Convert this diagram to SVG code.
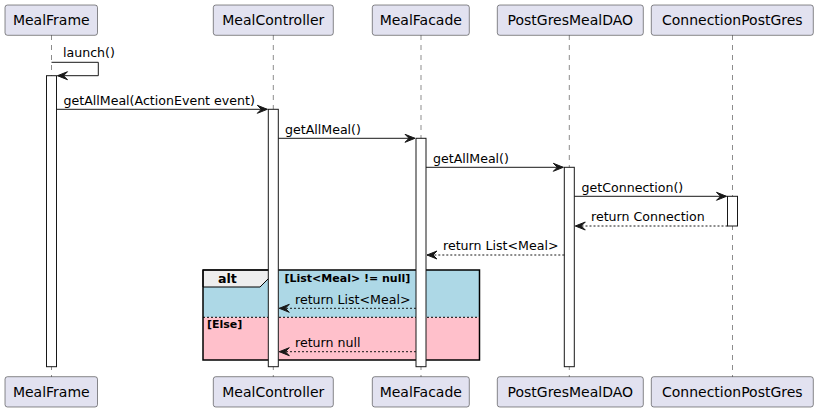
<svg xmlns="http://www.w3.org/2000/svg" width="818" height="411" viewBox="0 0 818 411">
<style>
.pbox{fill:#E2E2F0;stroke:#181818;stroke-width:0.5}
.ptxt{font-family:"DejaVu Sans",sans-serif;font-size:14px;fill:#000;text-anchor:middle}
.life{stroke:#181818;stroke-width:0.5;stroke-dasharray:5,5;fill:none}
.act{fill:#FFFFFF;stroke:#181818;stroke-width:1}
.msg{stroke:#181818;stroke-width:1;fill:none}
.ret{stroke:#181818;stroke-width:1;stroke-dasharray:2,2;fill:none}
.mtxt{font-family:"DejaVu Sans",sans-serif;font-size:12.6px;fill:#000}
.btxt{font-family:"DejaVu Sans",sans-serif;font-size:11px;font-weight:bold;fill:#000}
.ah{fill:#181818;stroke:#181818;stroke-width:1}
</style>
<g id="lifelines">
<line class="life" x1="51.5" y1="35" x2="51.5" y2="377"/>
<line class="life" x1="273.3" y1="35" x2="273.3" y2="377"/>
<line class="life" x1="421" y1="35" x2="421" y2="377"/>
<line class="life" x1="569.3" y1="35" x2="569.3" y2="377"/>
<line class="life" x1="732.5" y1="35" x2="732.5" y2="377"/>
</g>
<g id="alt">
<rect x="203" y="270" width="276.5" height="47.3" fill="#ADD8E6"/>
<rect x="203" y="317.3" width="276.5" height="42.7" fill="#FFC0CB"/>
<line x1="203" y1="317.3" x2="479.5" y2="317.3" stroke="#000" stroke-width="1" stroke-dasharray="2,2"/>
<polygon points="203,270 270,270 270,277 260,287 203,287" fill="#EEEEEE" stroke="#000" stroke-width="1"/>
<rect x="203" y="270" width="276.5" height="90" fill="none" stroke="#000" stroke-width="1.5"/>
<text x="218" y="282.5" class="mtxt" font-weight="bold" font-size="13px">alt</text>
<text x="284.5" y="282" class="btxt">[List&lt;Meal&gt; != null]</text>
<text x="207" y="328" class="btxt">[Else]</text>
</g>
<g id="activations">
<rect class="act" x="46.5" y="75.7" width="10" height="291"/>
<rect class="act" x="268.3" y="109.3" width="10" height="257.4"/>
<rect class="act" x="416" y="138.3" width="10" height="228.4"/>
<rect class="act" x="564.3" y="167.3" width="10" height="199.4"/>
<rect class="act" x="727.5" y="196.3" width="10" height="29.7"/>
</g>
<g id="connectors">
<polyline class="msg" points="51.5,62.3 98.3,62.3 98.3,75.7 57.5,75.7"/>
<polygon class="ah" points="67.5,71.7 57.5,75.7 67.5,79.7 63.5,75.7"/>
<text x="63" y="57" class="mtxt">launch()</text>

<line class="msg" x1="56.5" y1="109.3" x2="267.3" y2="109.3"/>
<polygon class="ah" points="257.3,105.3 267.3,109.3 257.3,113.3 261.3,109.3"/>
<text x="63.5" y="104.5" class="mtxt">getAllMeal(ActionEvent event)</text>

<line class="msg" x1="278.3" y1="138.3" x2="415" y2="138.3"/>
<polygon class="ah" points="405,134.3 415,138.3 405,142.3 409,138.3"/>
<text x="285" y="133.5" class="mtxt">getAllMeal()</text>

<line class="msg" x1="426" y1="167.3" x2="563.3" y2="167.3"/>
<polygon class="ah" points="553.3,163.3 563.3,167.3 553.3,171.3 557.3,167.3"/>
<text x="433" y="162.5" class="mtxt">getAllMeal()</text>

<line class="msg" x1="574.3" y1="196.3" x2="726.5" y2="196.3"/>
<polygon class="ah" points="716.5,192.3 726.5,196.3 716.5,200.3 720.5,196.3"/>
<text x="581.5" y="191.5" class="mtxt">getConnection()</text>

<line class="ret" x1="727.5" y1="226" x2="575.3" y2="226"/>
<polygon class="ah" points="585.3,222 575.3,226 585.3,230 581.3,226"/>
<text x="591" y="221" class="mtxt">return Connection</text>

<line class="ret" x1="564.3" y1="255" x2="427" y2="255"/>
<polygon class="ah" points="437,251 427,255 437,259 433,255"/>
<text x="443" y="250" class="mtxt">return List&lt;Meal&gt;</text>

<line class="ret" x1="416" y1="308.3" x2="279.3" y2="308.3"/>
<polygon class="ah" points="289.3,304.3 279.3,308.3 289.3,312.3 285.3,308.3"/>
<text x="295" y="303.5" class="mtxt">return List&lt;Meal&gt;</text>

<line class="ret" x1="416" y1="351.7" x2="279.3" y2="351.7"/>
<polygon class="ah" points="289.3,347.7 279.3,351.7 289.3,355.7 285.3,351.7"/>
<text x="295" y="347" class="mtxt">return null</text>
</g>
<g id="MealFrame">
<rect class="pbox" x="5" y="5" width="92.5" height="30.3" rx="2.5"/>
<text class="ptxt" x="51.3" y="25">MealFrame</text>
<rect class="pbox" x="5" y="376.7" width="92.5" height="30.3" rx="2.5"/>
<text class="ptxt" x="51.3" y="396.7">MealFrame</text>
</g>
<g id="MealController">
<rect class="pbox" x="213.3" y="5" width="120" height="30.3" rx="2.5"/>
<text class="ptxt" x="273.3" y="25">MealController</text>
<rect class="pbox" x="213.3" y="376.7" width="120" height="30.3" rx="2.5"/>
<text class="ptxt" x="273.3" y="396.7">MealController</text>
</g>
<g id="MealFacade">
<rect class="pbox" x="372.3" y="5" width="97" height="30.3" rx="2.5"/>
<text class="ptxt" x="420.8" y="25">MealFacade</text>
<rect class="pbox" x="372.3" y="376.7" width="97" height="30.3" rx="2.5"/>
<text class="ptxt" x="420.8" y="396.7">MealFacade</text>
</g>
<g id="PostGresMealDAO">
<rect class="pbox" x="497.3" y="5" width="146" height="30.3" rx="2.5"/>
<text class="ptxt" x="570.3" y="25">PostGresMealDAO</text>
<rect class="pbox" x="497.3" y="376.7" width="146" height="30.3" rx="2.5"/>
<text class="ptxt" x="570.3" y="396.7">PostGresMealDAO</text>
</g>
<g id="ConnectionPostGres">
<rect class="pbox" x="651.3" y="5" width="162" height="30.3" rx="2.5"/>
<text class="ptxt" x="732.3" y="25">ConnectionPostGres</text>
<rect class="pbox" x="651.3" y="376.7" width="162" height="30.3" rx="2.5"/>
<text class="ptxt" x="732.3" y="396.7">ConnectionPostGres</text>
</g>
</svg>
